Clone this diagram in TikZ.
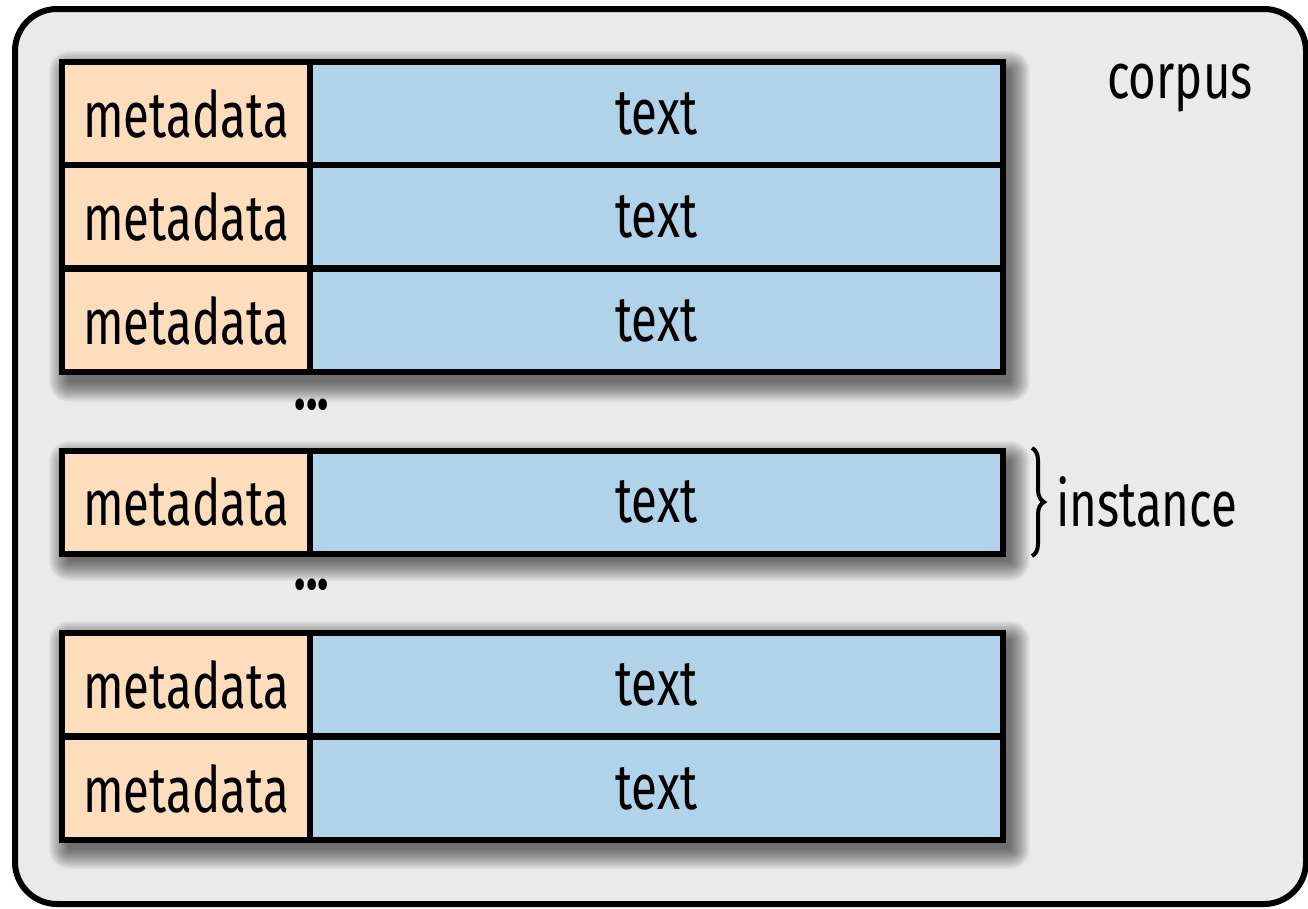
\documentclass[tikz,border=0pt]{standalone}
\usepackage{fontspec}
\setmainfont{Fira Sans}[FakeStretch=0.74]
\usetikzlibrary{decorations.pathreplacing}
\definecolor{framebg}{HTML}{EAEAEA}
\definecolor{metafill}{HTML}{FDDDBB}
\definecolor{textfill}{HTML}{B1D3EA}
\tikzset{
  cell/.style={draw=black, line width=6, minimum height=103, inner sep=0,
    font=\fontsize{64}{64}\selectfont},
  metacell/.style={cell, fill=metafill, minimum width=248},
  textcell/.style={cell, fill=textfill, minimum width=693},
  shadowlayer/.style={fill=black, opacity=0.032},
  label/.style={font=\fontsize{64}{64}\selectfont, inner sep=0},
  dots/.style={font=\bfseries\fontsize{64}{64}\selectfont, inner sep=0}
}
% soft drop shadow behind a block of rows: stacked translucent rectangles
\newcommand\softshadow[4]{%
  \foreach \r in {0,...,20}{%
    \fill[shadowlayer, rounded corners=\r pt]
      ({#1+7-\r},{#2+9-\r}) rectangle ({#3+7+\r},{#4+9+\r});
  }%
}
\begin{document}
\begin{tikzpicture}[x=1pt,y=-1pt]
\useasboundingbox (0,0) rectangle (1308,908);
\fill[white] (0,0) rectangle (1308,908);
% corpus frame
\draw[line width=6, fill=framebg, rounded corners=42] (15,9) rectangle (1306,904);
\node[label] (corpus) at (1180,88) {corpus};
% shadows under each block of rows
\softshadow{62}{62}{1003}{373}
\softshadow{62}{452}{1003}{552}
\softshadow{62}{632}{1003}{840}
% first block
\node[metacell] (m1) at (186,113.5) {metadata};
\node[textcell] (t1) at (656.5,113.5) {text};
\node[metacell] (m2) at (186,216.5) {metadata};
\node[textcell] (t2) at (656.5,216.5) {text};
\node[metacell] (m3) at (186,320.5) {metadata};
\node[textcell] (t3) at (656.5,320.5) {text};
\node[dots] (d1) at (312,405) {...};
% single instance
\node[metacell] (m4) at (186,502) {metadata};
\node[textcell] (t4) at (656.5,502) {text};
\node[dots] (d2) at (312,585) {...};
% last block
\node[metacell] (m5) at (186,684.5) {metadata};
\node[textcell] (t5) at (656.5,684.5) {text};
\node[metacell] (m6) at (186,788.5) {metadata};
\node[textcell] (t6) at (656.5,788.5) {text};
% instance brace
\coordinate (b1) at (1032,448);
\coordinate (b2) at (1032,556);
\draw[line width=4, decorate, decoration={brace, amplitude=12pt}] (b1) -- (b2);
\node[label, anchor=west] (inst) at (1056,502) {instance};
\end{tikzpicture}
\end{document}
